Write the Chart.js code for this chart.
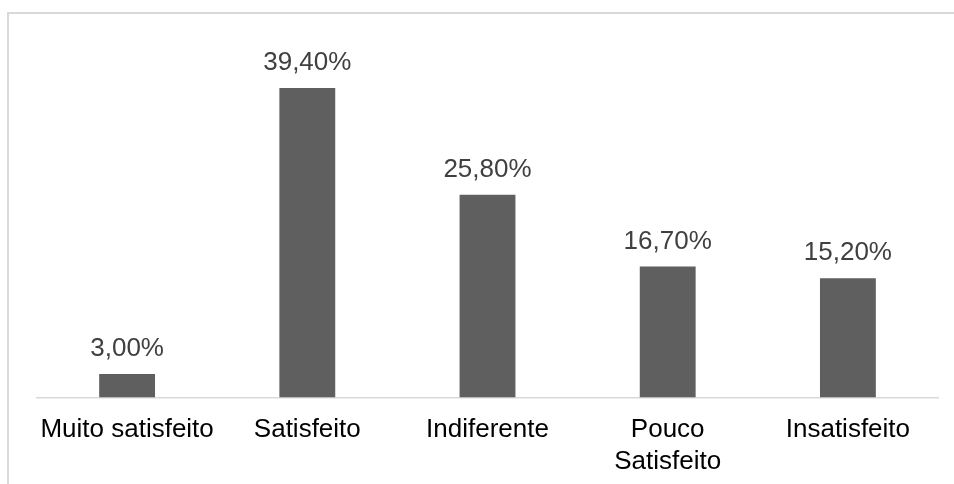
<!DOCTYPE html>
<html>
<head>
<meta charset="utf-8">
<script src="https://cdn.jsdelivr.net/npm/chart.js@4/dist/chart.umd.min.js"></script>
<style>
  html, body { margin: 0; padding: 0; background: #fff; overflow: hidden; }
  #wrap { position: relative; width: 954px; height: 484px; overflow: hidden; }
  #frame { position: absolute; left: 7px; top: 12px; right: -10px; bottom: -10px; border: 2px solid #d9d9d9; }
  canvas { position: absolute; left: 0; top: 0; }
</style>
</head>
<body>
<div id="wrap">
  <div id="frame"></div>
  <canvas id="chart" width="954" height="499"></canvas>
</div>
<script>
// Satisfaction survey · share of answers per category
const categories = ['Muito satisfeito', 'Satisfeito', 'Indiferente', ['Pouco', 'Satisfeito'], 'Insatisfeito'];
const values = [3.0, 39.4, 25.8, 16.7, 15.2];
const valueLabels = ['3,00%', '39,40%', '25,80%', '16,70%', '15,20%'];

// value labels above each bar
const barLabels = {
  id: 'barLabels',
  afterDatasetsDraw(chart) {
    const { ctx } = chart;
    const meta = chart.getDatasetMeta(0);
    ctx.save();
    ctx.font = '26px "Liberation Sans", Arial, sans-serif';
    ctx.fillStyle = '#404040';
    ctx.textAlign = 'center';
    ctx.textBaseline = 'middle';
    meta.data.forEach((bar, i) => {
      ctx.fillText(valueLabels[i], bar.x, bar.y - 25);
    });
    ctx.restore();
  }
};

new Chart(document.getElementById('chart'), {
  type: 'bar',
  data: {
    labels: categories,
    datasets: [{
      data: values,
      backgroundColor: '#5f5f5f',
      borderWidth: 0,
      categoryPercentage: 1,
      barPercentage: 0.31,
    }],
  },
  options: {
    responsive: false,
    animation: false,
    layout: { padding: { left: 37, right: 16, top: 44, bottom: 5 } },
    plugins: { legend: { display: false }, tooltip: { enabled: false } },
    scales: {
      x: {
        grid: { display: false, drawTicks: false },
        border: { display: true, color: '#d9d9d9', width: 1.5 },
        ticks: {
          color: '#000',
          padding: 17,
          maxRotation: 0,
          autoSkip: false,
          font: { family: '"Liberation Sans", Arial, sans-serif', size: 26 },
        },
      },
      y: { display: false, min: 0, max: 45 },
    },
  },
  plugins: [barLabels],
});
</script>
</body>
</html>
